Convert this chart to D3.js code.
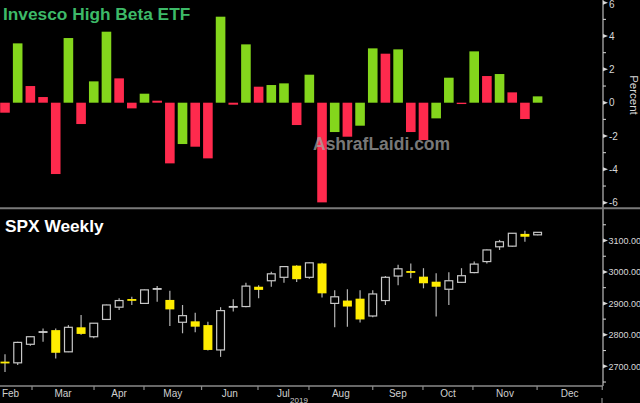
<!DOCTYPE html>
<html><head><meta charset="utf-8">
<script src="https://cdn.jsdelivr.net/npm/d3@7"></script>
<style>html,body{margin:0;padding:0;background:#000;}svg{display:block;}</style>
</head><body>
<svg id="c" width="640" height="403"></svg>
<script>
// ---- data ----
const betaPct = [-0.6,3.56,1.0,0.34,-4.28,3.88,-1.28,1.28,4.26,1.46,-0.34,0.54,0.12,-3.64,-2.48,-2.64,-3.34,5.16,-0.12,3.5,0.96,1.06,1.16,-1.34,1.68,-5.98,-1.76,-2.04,-1.38,3.26,2.94,3.2,-1.76,-2.24,-0.94,1.5,-0.08,3.08,1.6,1.72,0.62,-0.98,0.38];
const betaColor = ["r","g","r","r","r","g","r","g","g","r","r","g","r","r","g","r","r","g","r","g","r","g","g","r","g","r","g","r","g","g","r","g","r","r","g","g","r","g","r","g","r","r","g"];
const spxOpen  = [2712,2711,2770,2806,2815,2746,2824,2794,2849,2888,2911,2900,2943,2911,2840,2843,2831,2752,2887,2890,2953,2972,2983,3020,2983,3027,2900,2909,2915,2860,2909,2987,3000,2985,2969,2945,2967,2998,3033,3080,3082,3121,3118];
const spxHigh  = [2738,2778,2795,2820,2820,2831,2863,2838,2896,2916,2921,2944,2955,2940,2895,2870,2842,2888,2913,2966,2958,3001,3018,3021,3030,3029,2942,2945,2942,2942,2987,3023,3027,3012,2996,2999,3012,3033,3071,3102,3124,3131,3127];
const spxLow   = [2682,2704,2765,2778,2725,2745,2800,2789,2848,2879,2895,2899,2905,2828,2805,2808,2750,2730,2874,2888,2916,2953,2966,2968,2978,2919,2824,2826,2839,2856,2895,2958,2980,2948,2858,2895,2965,2996,3027,3070,3080,3096,3117];
const spxClose = [2708,2776,2794,2809,2743,2824,2803,2837,2895,2909,2907,2943,2946,2881,2861,2826,2752,2877,2889,2955,2943,2994,3017,2977,3029,2932,2921,2890,2849,2930,2983,3010,2996,2964,2953,2972,2988,3025,3070,3096,3123,3112,3126];
const monthLabels = ["Feb","Mar","Apr","May","Jun","Jul","Aug","Sep","Oct","Nov","Dec"];
// month boundaries in week-index units (first = start of Feb, off chart)
const monthStarts = [-2.3,2.13,7.02,10.96,15.5,19.95,23.97,29.0,32.96,36.9,41.96,47.1];
const pctTicks = [-6,-4,-2,0,2,4,6];
const spxTicks = [2700,2800,2900,3000,3100];

// ---- scales ----
const svg = d3.select("#c");
const axisX = 603;
const x = d3.scaleLinear().domain([0, 42]).range([5, 537.6]);
const yTop = d3.scaleLinear().domain([-6, 6]).range([202.7, 2.7]);
const yBot = d3.scaleLinear().domain([2700, 3100]).range([366.3, 240.5]);
const font = "'Liberation Sans', Arial, sans-serif";
const bw = 9.6;

svg.append("rect").attr("width",640).attr("height",403).attr("fill","#000");

// ---- top panel bars ----
const colors = {g:"#84d61c", r:"#ff2a4d"};
svg.append("g").selectAll("rect").data(betaPct).join("rect")
  .attr("x",(d,i)=>x(i)-bw/2)
  .attr("y",d=>Math.min(yTop(d),yTop(0)))
  .attr("width",bw)
  .attr("height",d=>Math.max(1.2,Math.abs(yTop(d)-yTop(0))))
  .attr("fill",(d,i)=>colors[betaColor[i]]);

// watermark
svg.append("text").attr("x",313).attr("y",149.5).text("AshrafLaidi.com")
  .attr("font-family",font).attr("font-weight","bold").attr("font-size",17.5)
  .attr("fill","#a8a8a8").attr("fill-opacity",0.72);

// title
svg.append("text").attr("x",3).attr("y",20).text("Invesco High Beta ETF")
  .attr("font-family",font).attr("font-weight","bold").attr("font-size",17.3)
  .attr("fill","#3dba68");

// top right axis
const axCol = "#d8d8d8";
svg.append("line").attr("x1",axisX).attr("x2",axisX).attr("y1",0).attr("y2",386)
  .attr("stroke","#bbbbbb").attr("stroke-width",1.2);
const gT = svg.append("g");
gT.selectAll("path.maj").data(pctTicks).join("path")
  .attr("d",d=>`M${axisX},${yTop(d)-2}L${axisX+5},${yTop(d)}L${axisX},${yTop(d)+2}Z`)
  .attr("fill",axCol);
gT.selectAll("line.min").data(d3.range(-5,6,2)).join("line")
  .attr("x1",axisX).attr("x2",axisX+3).attr("y1",d=>yTop(d)).attr("y2",d=>yTop(d))
  .attr("stroke",axCol).attr("stroke-width",1);
gT.selectAll("text").data(pctTicks).join("text")
  .attr("x",axisX+6).attr("y",d=>Math.max(8,yTop(d)+3.6)).text(d=>d)
  .attr("font-family",font).attr("font-size",10).attr("fill",axCol);
svg.append("text").attr("transform","translate(630,95) rotate(90)")
  .attr("text-anchor","middle").text("Percent")
  .attr("font-family",font).attr("font-size",11.5).attr("fill",axCol);

// separator
svg.append("line").attr("x1",0).attr("x2",640).attr("y1",208.3).attr("y2",208.3)
  .attr("stroke","#7a7a7a").attr("stroke-width",2);

// ---- bottom panel candles ----
svg.append("text").attr("x",5).attr("y",231.5).text("SPX Weekly")
  .attr("font-family",font).attr("font-weight","bold").attr("font-size",17.3)
  .attr("fill","#ffffff");

const cw = 9;
const gC = svg.append("g");
spxOpen.forEach((o,i)=>{
  const c = spxClose[i], h = spxHigh[i], l = spxLow[i];
  const cx = x(i);
  const down = c < o;
  const top = yBot(Math.max(o,c)), bot = yBot(Math.min(o,c));
  const bh = bot - top;
  const g = gC.append("g");
  g.append("line").attr("x1",cx).attr("x2",cx).attr("y1",yBot(h)).attr("y2",yBot(l))
    .attr("stroke","#b4b4b4").attr("stroke-width",1.2);
  if (bh < 2.2) {
    g.append("rect").attr("x",cx-cw/2).attr("y",top-0.9).attr("width",cw).attr("height",Math.max(1.8,bh))
      .attr("fill", down ? "#ffec00" : "#d0d0d0");
  } else if (down) {
    g.append("rect").attr("x",cx-cw/2).attr("y",top).attr("width",cw).attr("height",bh)
      .attr("fill","#ffec00");
  } else {
    g.append("rect").attr("x",cx-cw/2+0.6).attr("y",top).attr("width",cw-1.2).attr("height",bh)
      .attr("fill","#000").attr("stroke","#c8c8c8").attr("stroke-width",1.2);
  }
});

// bottom right axis
const gB = svg.append("g");
gB.selectAll("path").data(spxTicks).join("path")
  .attr("d",d=>`M${axisX},${yBot(d)-2}L${axisX+5},${yBot(d)}L${axisX},${yBot(d)+2}Z`)
  .attr("fill",axCol);
gB.selectAll("line").data([2650,2750,2850,2950,3050,3150]).join("line")
  .attr("x1",axisX).attr("x2",axisX+3).attr("y1",d=>yBot(d)).attr("y2",d=>yBot(d))
  .attr("stroke",axCol).attr("stroke-width",1);
gB.selectAll("text").data(spxTicks).join("text")
  .attr("x",axisX+5.5).attr("y",d=>yBot(d)+3.4).text(d3.format(".2f"))
  .attr("font-family",font).attr("font-size",9).attr("fill",axCol);

// x axis
svg.append("line").attr("x1",0).attr("x2",axisX).attr("y1",386).attr("y2",386)
  .attr("stroke","#8a8a8a").attr("stroke-width",1.5);
const gX = svg.append("g");
gX.selectAll("line").data(monthStarts.slice(1)).join("line")
  .attr("x1",d=>x(d)).attr("x2",d=>x(d)).attr("y1",386).attr("y2",390)
  .attr("stroke","#8a8a8a").attr("stroke-width",1.2);
gX.selectAll("text").data(monthLabels).join("text")
  .attr("text-anchor","middle")
  .attr("x",(d,i)=>Math.max(10.5,(x(monthStarts[i])+x(monthStarts[i+1]))/2))
  .attr("y",397).text(d=>d)
  .attr("font-family",font).attr("font-size",10).attr("fill","#d0d0d0");
svg.append("text").attr("x",299).attr("y",402.5).attr("text-anchor","middle").text("2019")
  .attr("font-family",font).attr("font-size",8).attr("fill","#d0d0d0");
svg.append("line").attr("x1",axisX-1).attr("x2",axisX-1).attr("y1",398).attr("y2",403)
  .attr("stroke","#8a8a8a").attr("stroke-width",1.2);
</script>
</body></html>
